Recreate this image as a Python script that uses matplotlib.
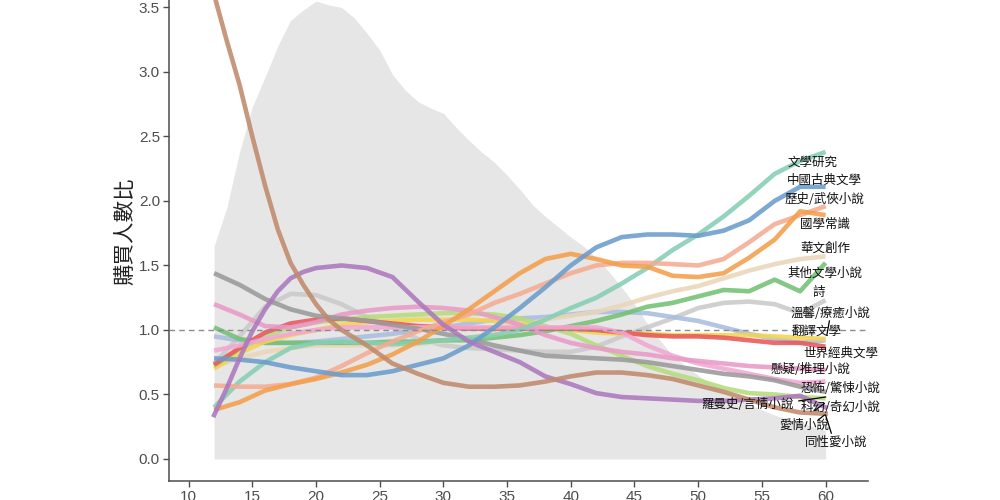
import numpy as np
import matplotlib.pyplot as plt

plt.rcParams['font.family'] = ['Noto Sans CJK TC', 'DejaVu Sans']

# ages for the lines (every 2 years)
ages = list(range(12, 61, 2))

# grey background area (yearly)
area_ages = list(range(12, 61))
area_vals = [1.65, 1.95, 2.38, 2.73, 2.96, 3.20, 3.40, 3.48, 3.55, 3.52,
             3.50, 3.42, 3.30, 3.17, 2.98, 2.86, 2.77, 2.72, 2.68, 2.57,
             2.47, 2.38, 2.30, 2.20, 2.09, 1.97, 1.88, 1.80, 1.72, 1.65,
             1.56, 1.45, 1.33, 1.20, 1.05, 0.92, 0.80, 0.72, 0.65, 0.58,
             0.52, 0.47, 0.42, 0.38, 0.34, 0.31, 0.28, 0.25, 0.22]

teal = [0.40, 0.60, 0.75, 0.86, 0.90, 0.91, 0.90, 0.89, 0.90, 0.92, 0.94, 0.96, 1.00,
        1.08, 1.17, 1.25, 1.36, 1.48, 1.62, 1.74, 1.88, 2.04, 2.21, 2.31, 2.38]
blue = [0.78, 0.77, 0.75, 0.71, 0.68, 0.65, 0.65, 0.68, 0.73, 0.78, 0.88, 1.02, 1.17,
        1.33, 1.50, 1.64, 1.72, 1.74, 1.74, 1.73, 1.77, 1.85, 2.00, 2.11, 2.11]
salmon = [0.57, 0.56, 0.56, 0.58, 0.63, 0.72, 0.82, 0.91, 0.99, 1.06, 1.12, 1.21, 1.28,
          1.36, 1.44, 1.50, 1.52, 1.52, 1.51, 1.50, 1.55, 1.68, 1.82, 1.89, 1.96]
orange = [0.38, 0.44, 0.53, 0.58, 0.62, 0.67, 0.73, 0.81, 0.91, 1.03, 1.16, 1.30, 1.44,
          1.55, 1.59, 1.55, 1.50, 1.49, 1.42, 1.41, 1.44, 1.56, 1.70, 1.92, 1.89]
beige = [0.72, 0.78, 0.83, 0.86, 0.88, 0.88, 0.88, 0.88, 0.89, 0.91, 0.94, 0.97, 1.02,
         1.08, 1.11, 1.14, 1.19, 1.25, 1.30, 1.34, 1.40, 1.46, 1.51, 1.55, 1.57]
green = [1.02, 0.93, 0.90, 0.90, 0.90, 0.90, 0.90, 0.91, 0.91, 0.92, 0.92, 0.94, 0.96,
         0.99, 1.03, 1.07, 1.12, 1.18, 1.21, 1.26, 1.31, 1.30, 1.39, 1.30, 1.52]
light_grey = [0.74, 0.95, 1.18, 1.28, 1.27, 1.20, 1.10, 1.02, 0.93, 0.88, 0.86, 0.85, 0.84,
              0.83, 0.83, 0.87, 0.95, 1.02, 1.09, 1.17, 1.21, 1.22, 1.20, 1.13, 1.23]
lavender = [0.95, 0.92, 0.90, 0.90, 0.91, 0.93, 0.95, 0.97, 1.00, 1.02, 1.05, 1.08, 1.09,
            1.10, 1.12, 1.14, 1.14, 1.13, 1.10, 1.07, 1.02, 0.97, 0.93, 0.90, 0.92]
yellow = [0.70, 0.82, 0.91, 0.96, 1.00, 1.04, 1.06, 1.07, 1.08, 1.08, 1.08, 1.07, 1.05,
          1.02, 1.00, 0.98, 0.97, 0.97, 0.96, 0.96, 0.96, 0.96, 0.95, 0.94, 0.93]
light_green = [0.72, 0.85, 0.95, 1.02, 1.06, 1.08, 1.10, 1.11, 1.12, 1.13, 1.13, 1.12, 1.09,
               1.03, 0.97, 0.88, 0.80, 0.72, 0.66, 0.61, 0.55, 0.51, 0.50, 0.48, 0.47]
red = [0.73, 0.86, 0.98, 1.05, 1.08, 1.09, 1.07, 1.05, 1.03, 1.02, 1.01, 1.01, 1.01,
       1.01, 1.01, 1.00, 0.98, 0.96, 0.95, 0.95, 0.94, 0.92, 0.90, 0.90, 0.87]
pink_a = [1.20, 1.12, 1.03, 1.02, 1.06, 1.12, 1.15, 1.17, 1.18, 1.17, 1.15, 1.10, 1.04,
          0.96, 0.90, 0.86, 0.83, 0.81, 0.78, 0.76, 0.74, 0.72, 0.71, 0.70, 0.69]
pink_b = [0.84, 0.88, 0.93, 0.97, 1.00, 1.02, 1.02, 1.02, 1.02, 1.02, 1.02, 1.02, 1.02,
          1.02, 1.02, 1.02, 0.98, 0.88, 0.80, 0.74, 0.70, 0.66, 0.62, 0.59, 0.60]
dark_grey = [1.44, 1.35, 1.24, 1.16, 1.11, 1.09, 1.07, 1.04, 1.01, 0.97, 0.93, 0.88, 0.84,
             0.80, 0.79, 0.78, 0.77, 0.75, 0.72, 0.69, 0.66, 0.64, 0.61, 0.56, 0.52]
purple_ages = [12, 13, 14, 15, 16, 17, 18, 19, 20] + list(range(22, 61, 2))
purple = [0.34, 0.55, 0.78, 0.99, 1.16, 1.30, 1.40, 1.45, 1.48, 1.50, 1.48, 1.41, 1.22,
          1.04, 0.91, 0.83, 0.75, 0.64, 0.58, 0.51, 0.48, 0.47, 0.46, 0.45, 0.45, 0.46,
          0.47, 0.49, 0.40]
brown_ages = list(range(12, 23)) + list(range(24, 61, 2))
brown = [3.60, 3.24, 2.90, 2.50, 2.12, 1.78, 1.52, 1.35, 1.20, 1.08, 1.00, 0.88, 0.74,
         0.66, 0.59, 0.56, 0.56, 0.57, 0.60, 0.64, 0.67, 0.67, 0.65, 0.62, 0.57, 0.52,
         0.46, 0.40, 0.36, 0.35]

series = [light_grey, lavender, beige, green, yellow, light_green, red, pink_b, pink_a,
          dark_grey, teal, salmon, orange, blue]
colors = ['#cacaca', '#a9bde0', '#ead7b8', '#72c173', '#f3d451', '#b5dc7c', '#e9575a',
          '#f2a7d3', '#e99ac8', '#9a9a9a', '#86cfb3', '#f4ab92', '#f49f4b', '#6a9ccc']

labels = ['文學研究', '中國古典文學', '歷史/武俠小說', '國學常識', '華文創作', '其他文學小說',
          '詩', '溫馨/療癒小說', '翻譯文學', '世界經典文學', '懸疑/推理小說', '恐怖/驚悚小說',
          '羅曼史/言情小說', '科幻/奇幻小說', '愛情小說', '同性愛小說']
label_x = [59.0, 59.9, 59.95, 59.95, 59.95, 59.95, 59.5, 60.35, 59.3, 61.2, 58.8, 61.2,
           53.9, 61.2, 58.3, 60.8]
label_y = [2.30, 2.16, 2.01, 1.82, 1.63, 1.44, 1.29, 1.13, 0.99, 0.82, 0.69, 0.55,
           0.42, 0.40, 0.26, 0.13]

# repel connector segments (x0, y0, x1, y1)
segments = [(57.9, 0.45, 60.0, 0.48), (59.2, 0.38, 59.9, 0.43),
            (59.4, 0.30, 59.9, 0.34), (60.0, 0.34, 60.45, 0.20),
            (60.3, 1.07, 60.1, 0.96)]


def main():
    fig = plt.figure(figsize=(10, 5), dpi=100)
    ax = fig.add_axes([0.169, 0.038, 0.699, 0.962])

    ax.fill_between(area_ages, 0, area_vals, color='#e6e6e6', lw=0, zorder=0)

    for vals, c in zip(series, colors):
        ax.plot(ages, vals, color=c, lw=3.3, alpha=0.88, solid_capstyle='butt', zorder=2)
    ax.plot(purple_ages, purple, color='#ac78bd', lw=3.3, alpha=0.88, zorder=2)
    ax.plot(brown_ages, brown, color='#c08a6b', lw=3.3, alpha=0.88, zorder=2)

    ax.axhline(1.0, color='#8c8c8c', lw=1, ls=(0, (4, 3)), zorder=3)

    for x0, y0, x1, y1 in segments:
        ax.plot([x0, x1], [y0, y1], color='black', lw=0.9, zorder=4)

    for t, x, y in zip(labels, label_x, label_y):
        ax.text(x, y, t, fontsize=9, ha='center', va='center', color='#111111', zorder=5)

    ax.set_xlim(8.46, 63.33)
    ax.set_ylim(-0.171, 3.558)
    ax.set_xticks(np.arange(10, 61, 5))
    ax.set_yticks(np.arange(0, 3.6, 0.5))
    ax.set_yticklabels(['%.1f' % v for v in np.arange(0, 3.6, 0.5)])
    ax.tick_params(labelsize=11, colors='#4d4d4d', length=4, width=1, pad=2.5)
    for lab in ax.get_xticklabels() + ax.get_yticklabels():
        lab.set_family('Liberation Sans')
    for s in ['top', 'right']:
        ax.spines[s].set_visible(False)
    for s in ['left', 'bottom']:
        ax.spines[s].set_color('#4d4d4d')
        ax.spines[s].set_linewidth(1.1)

    ax.set_ylabel('購買人數比', fontsize=15.5, color='#222222')
    ax.yaxis.set_label_coords(-0.047, 0.52)

    fig.savefig('out.png', dpi=100)


if __name__ == "__main__":
    main()
